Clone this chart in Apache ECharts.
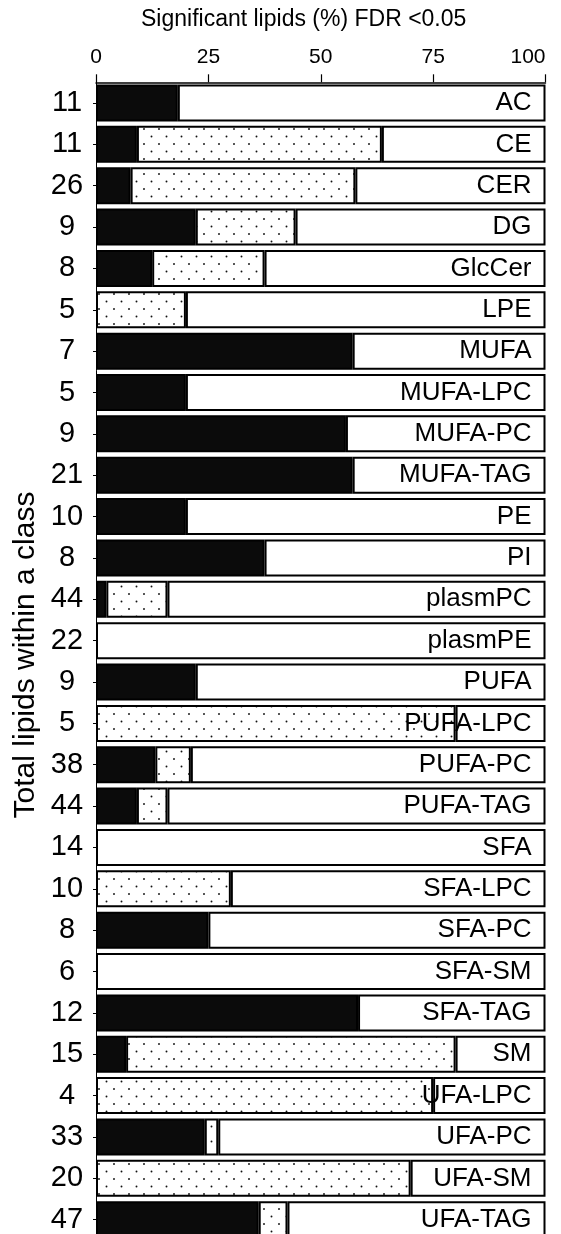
<!DOCTYPE html>
<html><head><meta charset="utf-8">
<script src="https://cdn.jsdelivr.net/npm/echarts@6/dist/echarts.min.js"></script>
<style>html,body{margin:0;padding:0;background:#fff}#c{width:561px;height:1234px}</style>
</head><body><div id="c"></div>
<script>
// ---- data ----
const categories = ['AC','CE','CER','DG','GlcCer','LPE','MUFA','MUFA-LPC','MUFA-PC','MUFA-TAG','PE','PI','plasmPC','plasmPE','PUFA','PUFA-LPC','PUFA-PC','PUFA-TAG','SFA','SFA-LPC','SFA-PC','SFA-SM','SFA-TAG','SM','UFA-LPC','UFA-PC','UFA-SM','UFA-TAG'];
const totals = [11,11,26,9,8,5,7,5,9,21,10,8,44,22,9,5,38,44,14,10,8,6,12,15,4,33,20,47];
const solidPct = [18.2,9.1,7.7,22.2,12.5,0,57.1,20,55.6,57.1,20,37.5,2.3,0,22.2,0,13.2,9.1,0,0,25,0,58.3,6.7,0,24.2,0,36.2];
const dottedPct = [0,54.5,50,22.2,25,20,0,0,0,0,0,0,13.6,0,0,80,7.9,6.8,0,30,0,0,0,73.3,75,3.0,70,6.4];
const xTicks = [0,25,50,75,100];
const xTitle = 'Significant lipids (%) FDR <0.05';
const yTitle = 'Total lipids within a class';

const remainder = categories.map((c,i)=> +(100 - solidPct[i] - dottedPct[i]).toFixed(2));
const skipZero = arr => arr.map(v => v === 0 ? '-' : v);

// dotted pattern
const pc = document.createElement('canvas'); pc.width = 15; pc.height = 15;
const g = pc.getContext('2d');
g.fillStyle = '#fff'; g.fillRect(0,0,15,15);
g.fillStyle = '#111';
g.beginPath(); g.arc(1.5,1.5,0.95,0,2*Math.PI); g.fill();
g.beginPath(); g.arc(9,9,0.95,0,2*Math.PI); g.fill();

const FONT = '"Liberation Sans", Arial, sans-serif';
const bandH = 41.36;
const chart = echarts.init(document.getElementById('c'), null, {renderer:'canvas'});
const seg = { borderColor:'#000', borderWidth:2 };
chart.setOption({
  animation:false,
  backgroundColor:'#fff',
  textStyle:{fontFamily:FONT},
  grid:{left:96, right:15.5, top:82.3, height:bandH*categories.length, containLabel:false, outerBoundsMode:'none'},
  xAxis:{type:'value', position:'top', min:xTicks[0], max:xTicks[xTicks.length-1], interval:xTicks[1]-xTicks[0],
    axisLine:{show:true, lineStyle:{color:'#000', width:1.5}},
    axisTick:{show:true, length:8, lineStyle:{color:'#000', width:1.2}},
    axisLabel:{margin:15, fontSize:21, color:'#000', fontFamily:FONT, alignMaxLabel:'right'},
    splitLine:{show:false}},
  yAxis:[
    {type:'category', data:categories, inverse:true, position:'left',
     axisLine:{show:true, lineStyle:{color:'#000', width:1}},
     axisTick:{show:true, length:3, alignWithLabel:true, lineStyle:{color:'#000'}},
     axisLabel:{align:'center', margin:29, fontSize:29, color:'#000', fontFamily:FONT,
       formatter:(v,i)=>String(totals[i])}},
    {type:'category', data:categories, inverse:true, position:'right', z:10,
     axisLine:{show:false}, axisTick:{show:false},
     axisLabel:{inside:true, margin:14, fontSize:26, color:'#000', fontFamily:FONT, padding:[0,0,6,0]}}
  ],
  series:[
    {type:'bar', stack:'s', yAxisIndex:0, barWidth:37, data:skipZero(solidPct), itemStyle:Object.assign({color:'#0b0b0b'}, seg)},
    {type:'bar', stack:'s', yAxisIndex:0, barWidth:37, data:skipZero(dottedPct), itemStyle:Object.assign({color:{image:pc, repeat:'repeat'}}, seg)},
    {type:'bar', stack:'s', yAxisIndex:0, barWidth:37, data:remainder, itemStyle:Object.assign({color:'#fff'}, seg)}
  ],
  graphic:[
    {type:'text', left:141, top:8, style:{text:xTitle, font:'23px '+FONT, fill:'#000'}},
    {type:'text', x:26, y:655, rotation:Math.PI/2, style:{text:yTitle, font:'30px '+FONT, fill:'#000', align:'center', verticalAlign:'middle'}}
  ]
});
</script></body></html>
